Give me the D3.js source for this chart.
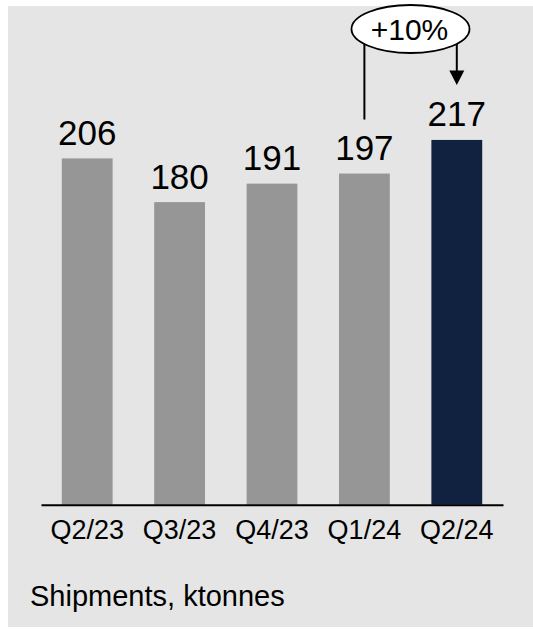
<!DOCTYPE html>
<html>
<head>
<meta charset="utf-8">
<script src="https://cdn.jsdelivr.net/npm/d3@7/dist/d3.min.js"></script>
<style>
  html, body { margin: 0; padding: 0; background: #ffffff; }
  svg { display: block; font-family: "Liberation Sans", Arial, sans-serif; }
</style>
</head>
<body>
<svg id="chart" width="533" height="629"></svg>
<script>
// Quarterly shipments
const quarters = ["Q2/23", "Q3/23", "Q4/23", "Q1/24", "Q2/24"];
const shipments = [206, 180, 191, 197, 217];
const footnote = "Shipments, ktonnes";

const svg = d3.select("#chart");
const W = 533, H = 629;

// panel background
svg.append("rect")
  .attr("x", 8).attr("y", 6)
  .attr("width", W - 8).attr("height", 621)
  .attr("fill", "#e5e5e5");

const x = d3.scaleBand()
  .domain(quarters)
  .range([41, 503])
  .paddingInner(0.45)
  .paddingOuter(0.225);

const baseY = 504.7;
const y = d3.scaleLinear()
  .domain([0, 300])
  .range([baseY, baseY - 1.681 * 300]);

const data = quarters.map((q, i) => ({ q, v: shipments[i], last: i === quarters.length - 1 }));

// bars
svg.append("g").selectAll("rect")
  .data(data)
  .join("rect")
  .attr("x", d => x(d.q))
  .attr("y", d => y(d.v))
  .attr("width", x.bandwidth())
  .attr("height", d => y(0) - y(d.v))
  .attr("fill", d => d.last ? "#112240" : "#969696");

// value labels
svg.append("g").selectAll("text")
  .data(data)
  .join("text")
  .attr("x", d => x(d.q) + x.bandwidth() / 2)
  .attr("y", d => y(d.v) - 13.5)
  .attr("text-anchor", "middle")
  .attr("font-size", 35)
  .attr("fill", "#000")
  .text(d => d.v);

// baseline axis
const axis = d3.axisBottom(x).tickSize(0).tickPadding(0);
const ax = svg.append("g")
  .attr("transform", `translate(0,${baseY})`)
  .call(axis);
ax.select(".domain").attr("stroke", "#000").attr("stroke-width", 2);
ax.selectAll(".tick text")
  .attr("font-family", "Liberation Sans, Arial, sans-serif")
  .attr("font-size", 27)
  .attr("fill", "#000")
  .attr("dy", null)
  .attr("y", 34.5);

// growth annotation between the last two quarters
const a = data[3], b = data[4];
const growth = Math.round((b.v - a.v) / a.v * 100);
const cx = 410.5, cy = 29, rx = 59, ry = 24;
const edgeY = px => cy + ry * Math.sqrt(1 - Math.pow((px - cx) / rx, 2));
const xa = x(a.q) + x.bandwidth() / 2;
const xb = x(b.q) + x.bandwidth() / 2;

svg.append("line")
  .attr("x1", xa).attr("x2", xa)
  .attr("y1", edgeY(xa)).attr("y2", y(a.v) - 54)
  .attr("stroke", "#000").attr("stroke-width", 2);

const tipY = y(b.v) - 55;
svg.append("line")
  .attr("x1", xb).attr("x2", xb)
  .attr("y1", edgeY(xb)).attr("y2", tipY - 12)
  .attr("stroke", "#000").attr("stroke-width", 2);
svg.append("path")
  .attr("d", `M${xb - 7.5},${tipY - 14.5} L${xb + 7.5},${tipY - 14.5} L${xb},${tipY} Z`)
  .attr("fill", "#000");

svg.append("ellipse")
  .attr("cx", cx).attr("cy", cy)
  .attr("rx", rx).attr("ry", ry)
  .attr("fill", "#fff")
  .attr("stroke", "#000").attr("stroke-width", 1.8);
svg.append("text")
  .attr("x", cx - 1).attr("y", 40)
  .attr("text-anchor", "middle")
  .attr("font-size", 30)
  .attr("fill", "#000")
  .text(`+${growth}%`);

// unit note
svg.append("text")
  .attr("x", 30).attr("y", 606)
  .attr("font-size", 29)
  .attr("fill", "#000")
  .text(footnote);
</script>
</body>
</html>
